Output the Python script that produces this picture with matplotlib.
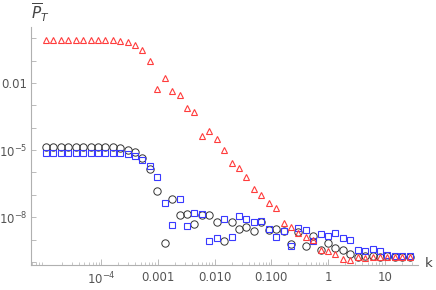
import matplotlib
matplotlib.use("Agg")
import matplotlib.pyplot as plt
import numpy as np

# === DATA ===
k = [1.059e-5, 1.432e-5, 1.935e-5, 2.616e-5, 3.536e-5, 4.780e-5, 6.461e-5, 8.736e-5,
     1.181e-4, 1.596e-4, 2.158e-4, 2.917e-4, 3.943e-4, 5.330e-4, 7.206e-4, 9.739e-4,
     1.317e-3, 1.780e-3, 2.406e-3, 3.252e-3, 4.395e-3, 5.941e-3, 8.032e-3, 1.086e-2,
     1.468e-2, 1.984e-2, 2.682e-2, 3.625e-2, 4.900e-2, 6.624e-2, 8.954e-2, 0.1210,
     0.1636, 0.2212, 0.2990, 0.4042, 0.5463, 0.7385, 0.998, 1.349,
     1.824, 2.466, 3.333, 4.506, 6.091, 8.234, 11.13, 15.04, 20.33, 27.49]

# red triangles
p_tri = [0.814, 0.814, 0.814, 0.814, 0.814, 0.814, 0.814, 0.814, 0.814, 0.814,
         0.757, 0.662, 0.501, 0.290, 0.0964, 5.56e-3, 1.73e-2, 4.52e-3, 2.82e-3, 7.38e-4,
         4.89e-4, 4.39e-5, 7.12e-5, 3.12e-5, 1.058e-5, 2.55e-6, 1.66e-6, 6.42e-7, 1.90e-7, 9.74e-8,
         4.50e-8, 2.55e-8, 5.28e-9, 3.61e-9, 1.94e-9, 1.29e-9, 9.45e-10, 3.37e-10, 3.21e-10, 2.35e-10,
         1.33e-10, 1.20e-10, 1.59e-10, 1.56e-10, 1.59e-10, 1.69e-10, 1.69e-10, 1.69e-10, 1.69e-10, 1.69e-10]

# black circles
p_circ = [1.33e-5, 1.33e-5, 1.33e-5, 1.33e-5, 1.33e-5, 1.33e-5, 1.33e-5, 1.33e-5, 1.33e-5, 1.33e-5,
          1.20e-5, 1.005e-5, 8.18e-6, 4.27e-6, 1.46e-6, 1.50e-7, 6.72e-10, 6.66e-8, 1.24e-8, 1.38e-8,
          4.91e-9, 1.31e-8, 1.24e-8, 5.85e-9, 8.52e-10, 6.22e-9, 2.94e-9, 3.50e-9, 2.39e-9, 5.85e-9,
          2.65e-9, 2.94e-9, 2.39e-9, 6.39e-10, 2.09e-9, 5.36e-10, 1.47e-9, 3.37e-10, 7.08e-10, 4.27e-10,
          3.37e-10, 2.19e-10, 1.69e-10, 1.87e-10, 1.87e-10, 1.69e-10, 1.87e-10, 1.69e-10, 1.69e-10, 1.69e-10]

# blue squares
p_sq = [7.61e-6, 7.61e-6, 7.61e-6, 7.61e-6, 7.61e-6, 7.61e-6, 7.61e-6, 7.61e-6, 7.61e-6, 7.61e-6,
        7.23e-6, 6.45e-6, 5.53e-6, 3.78e-6, 1.99e-6, 6.04e-7, 4.50e-8, 4.43e-9, 6.45e-8, 4.12e-9,
        1.48e-8, 1.38e-8, 8.52e-10, 1.16e-9, 8.22e-9, 1.29e-9, 1.16e-8, 8.22e-9, 6.22e-9, 6.69e-9,
        2.94e-9, 1.33e-9, 2.51e-9, 5.36e-10, 3.42e-9, 2.65e-9, 8.27e-10, 1.70e-9, 1.46e-9, 1.88e-9,
        1.20e-9, 9.74e-10, 3.48e-10, 3.04e-10, 3.74e-10, 3.14e-10, 2.01e-10, 1.82e-10, 1.82e-10, 1.82e-10]

x_ticks = [1e-4, 1e-3, 1e-2, 1e-1, 1, 10]
x_labels = [r'$10^{-4}$', '0.001', '0.010', '0.100', '1', '10']
y_exps = list(range(-10, 1))
y_named = {-2: '0.01', -5: r'$10^{-5}$', -8: r'$10^{-8}$'}

# === PLOT ===
fig = plt.figure(figsize=(4.36, 2.90), dpi=100)
ax = fig.add_axes([0.0722, 0.0862, 0.8865, 0.8207])

ax.plot(k, p_circ, 'o', mfc='none', mec='#333333', ms=5.3, mew=0.7, zorder=3)
ax.plot(k, p_sq, 's', mfc='none', mec='#3a3aff', ms=3.9, mew=0.8, zorder=4)
ax.plot(k, p_tri, '^', mfc='none', mec='#ff3c3c', ms=4.6, mew=0.8, zorder=5)

ax.set_xscale('log')
ax.set_yscale('log')
ax.set_xlim(10**-5.231, 10**1.585)
ax.set_ylim(10**-10.14, 10**0.506)

# mathematica-like axes
for s in ['top', 'right']:
    ax.spines[s].set_visible(False)
for s in ['left', 'bottom']:
    ax.spines[s].set_color('#b0b0b0')
    ax.spines[s].set_linewidth(0.8)

ax.set_xticks(x_ticks)
ax.set_xticklabels(x_labels)
ax.xaxis.set_minor_locator(matplotlib.ticker.LogLocator(base=10, subs=np.arange(2, 10), numticks=20))
ax.xaxis.set_minor_formatter(matplotlib.ticker.NullFormatter())

ax.set_yticks([10.0**e for e in y_exps])
ax.set_yticklabels([y_named.get(e, '') for e in y_exps])
ax.yaxis.set_minor_locator(matplotlib.ticker.NullLocator())

ax.tick_params(which='both', direction='in', colors='#b0b0b0', labelcolor='#555555', labelsize=8.5)
ax.tick_params(axis='x', which='major', length=4, width=0.6, pad=4)
ax.tick_params(axis='x', which='minor', length=2, width=0.5)
ax.tick_params(axis='y', which='major', length=3.5, width=0.6, pad=3)

fig.text(0.072, 0.955, r'$\overline{P}_T$', fontsize=11, color='#444444', ha='left', va='center')
fig.text(0.982, 0.09, 'k', fontsize=9.5, color='#444444', ha='center', va='center')

fig.savefig('out.png', dpi=100)
